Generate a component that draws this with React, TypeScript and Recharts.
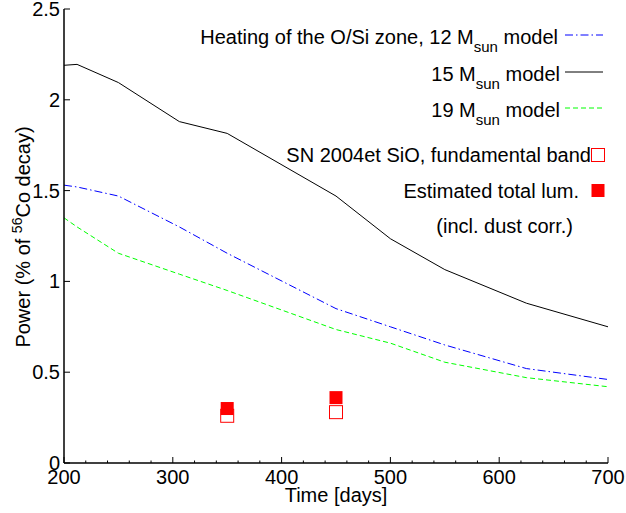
import { ComposedChart, Line, Scatter, XAxis, YAxis } from 'recharts';

// Model curves: heating of the O/Si zone for three progenitor masses,
// plus the SN 2004et SiO fundamental band measurements.
const days = [200, 212, 250, 306, 350, 450, 500, 550, 625, 700];
const power12 = [1.53, 1.52, 1.47, 1.30, 1.155, 0.85, 0.75, 0.65, 0.52, 0.46];
const power15 = [2.19, 2.195, 2.095, 1.88, 1.815, 1.47, 1.235, 1.065, 0.88, 0.75];
const power19 = [1.35, 1.30, 1.155, 1.04, 0.95, 0.735, 0.66, 0.555, 0.47, 0.42];

const obsDays = [350, 450];
const sioBand = [0.26, 0.28];
const totalLum = [0.30, 0.36];

const majorDays = [200, 300, 400, 500, 600, 700];
const xTicks = Array.from({ length: 26 }, (_, i) => 200 + i * 20);
const yTicks = [0, 0.5, 1, 1.5, 2, 2.5];

const FONT = "'Liberation Sans', Arial, Helvetica, sans-serif";
const C = { blue: '#0000ff', black: '#000000', green: '#00ff00', red: '#ff0000' };
const DASH12 = '8 3 1.5 3';
const DASH19 = '5 3';

const toRows = (ys: number[]) => days.map((d, i) => ({ day: d, p: ys[i] }));
const rows12 = toRows(power12);
const rows15 = toRows(power15);
const rows19 = toRows(power19);
const sioRows = obsDays.map((d, i) => ({ day: d, p: sioBand[i] }));
const lumRows = obsDays.map((d, i) => ({ day: d, p: totalLum[i] }));

const W = 626;
const H = 513;

// ticks point inward; labels only on the bottom/left axes
function BottomTick({ x, y, payload }: any) {
  const major = majorDays.includes(payload.value);
  return (
    <g>
      <line x1={x} x2={x} y1={y} y2={y - (major ? 6 : 2.5)} stroke="#000" strokeWidth={1} />
      {major && (
        <text x={x} y={y + 21} textAnchor="middle" fontSize={20} fontFamily={FONT} fill="#000">{payload.value}</text>
      )}
    </g>
  );
}
function TopTick({ x, y, payload }: any) {
  const major = majorDays.includes(payload.value);
  return <line x1={x} x2={x} y1={y} y2={y + (major ? 6 : 2.5)} stroke="#000" strokeWidth={1} />;
}
function LeftTick({ x, y, payload }: any) {
  return (
    <g>
      <line x1={x} x2={x + 6} y1={y} y2={y} stroke="#000" strokeWidth={1} />
      <text x={x - 4} y={y + 7} textAnchor="end" fontSize={20} fontFamily={FONT} fill="#000">{payload.value}</text>
    </g>
  );
}
function RightTick({ x, y }: any) {
  return <line x1={x} x2={x - 6} y1={y} y2={y} stroke="#000" strokeWidth={1} />;
}

const OpenSquare = (p: any) => (
  <rect x={p.cx - 6.5} y={p.cy - 6.5} width={13} height={13} fill="none" stroke={C.red} strokeWidth={1} />
);
const FilledSquare = (p: any) => (
  <rect x={p.cx - 6.5} y={p.cy - 6.5} width={13} height={13} fill={C.red} />
);

function Mass({ n, y, end }: { n: string; y: number; end: number }) {
  return (
    <text x={end} y={y} textAnchor="end" fontSize={20} fontFamily={FONT} fill="#000">
      {n}
      <tspan fontSize={15} dy={8}>sun</tspan>
      <tspan dy={-8}> model</tspan>
    </text>
  );
}

function Overlay() {
  const t = { fontSize: 20, fontFamily: FONT, fill: '#000' };
  return (
    <svg width={W} height={H} style={{ position: 'absolute', left: 0, top: 0, pointerEvents: 'none' }}>
      {/* axis titles */}
      <text x={336} y={502} textAnchor="middle" {...t}>Time [days]</text>
      <text x={30} y={237} textAnchor="middle" transform="rotate(-90 30 237)" {...t}>
        Power (% of <tspan fontSize={14} dy={-8}>56</tspan><tspan dy={8}>Co decay)</tspan>
      </text>

      {/* key */}
      <Mass n="Heating of the O/Si zone, 12 M" y={44} end={558} />
      <line x1={565} x2={603} y1={35} y2={35} stroke={C.blue} strokeDasharray={DASH12} />
      <Mass n="15 M" y={81} end={560} />
      <line x1={565} x2={603} y1={72} y2={72} stroke={C.black} />
      <Mass n="19 M" y={117} end={560} />
      <line x1={565} x2={603} y1={108} y2={108} stroke={C.green} strokeDasharray={DASH19} />

      <text x={591} y={162} textAnchor="end" {...t}>SN 2004et SiO, fundamental band</text>
      <rect x={591.5} y={148.5} width={13} height={13} fill="none" stroke={C.red} />
      <text x={579} y={198} textAnchor="end" {...t}>Estimated total lum.</text>
      <rect x={591.5} y={184} width={13} height={13} fill={C.red} />
      <text x={573} y={233} textAnchor="end" {...t}>(incl. dust corr.)</text>
    </svg>
  );
}

export default function App() {
  return (
    <div style={{ position: 'absolute', left: 0, top: 0, width: W, height: H, background: '#fff' }}>
      <ComposedChart width={W} height={H} margin={{ top: 9, right: 18, bottom: 0, left: 0 }}>
        <XAxis xAxisId="bottom" dataKey="day" type="number" domain={[200, 700]} ticks={xTicks} interval={0}
          height={50} tickSize={0} tickMargin={0} tickLine={false} tick={<BottomTick />}
          axisLine={{ stroke: '#000', strokeWidth: 1.5 }} allowDataOverflow />
        <XAxis xAxisId="top" orientation="top" dataKey="day" type="number" domain={[200, 700]} ticks={xTicks} interval={0}
          height={0} tickSize={0} tickMargin={0} tickLine={false} tick={<TopTick />}
          axisLine={{ stroke: '#000', strokeWidth: 1.5 }} allowDataOverflow />
        <YAxis yAxisId="left" type="number" domain={[0, 2.5]} ticks={yTicks} interval={0}
          width={64} tickSize={0} tickMargin={0} tickLine={false} tick={<LeftTick />}
          axisLine={{ stroke: '#000', strokeWidth: 1.5 }} allowDataOverflow />
        <YAxis yAxisId="right" orientation="right" type="number" domain={[0, 2.5]} ticks={yTicks} interval={0}
          width={0} tickSize={0} tickMargin={0} tickLine={false} tick={<RightTick />}
          axisLine={{ stroke: '#000', strokeWidth: 1.5 }} allowDataOverflow />

        <Line xAxisId="bottom" yAxisId="left" data={rows12} dataKey="p" type="linear" stroke={C.blue}
          strokeWidth={1} strokeDasharray={DASH12} dot={false} activeDot={false} isAnimationActive={false} />
        <Line xAxisId="bottom" yAxisId="left" data={rows15} dataKey="p" type="linear" stroke={C.black}
          strokeWidth={1} dot={false} activeDot={false} isAnimationActive={false} />
        <Line xAxisId="bottom" yAxisId="left" data={rows19} dataKey="p" type="linear" stroke={C.green}
          strokeWidth={1} strokeDasharray={DASH19} dot={false} activeDot={false} isAnimationActive={false} />

        <Scatter xAxisId="bottom" yAxisId="left" data={sioRows} dataKey="p" shape={OpenSquare} isAnimationActive={false} />
        <Scatter xAxisId="bottom" yAxisId="left" data={lumRows} dataKey="p" shape={FilledSquare} isAnimationActive={false} />
      </ComposedChart>
      <Overlay />
    </div>
  );
}
